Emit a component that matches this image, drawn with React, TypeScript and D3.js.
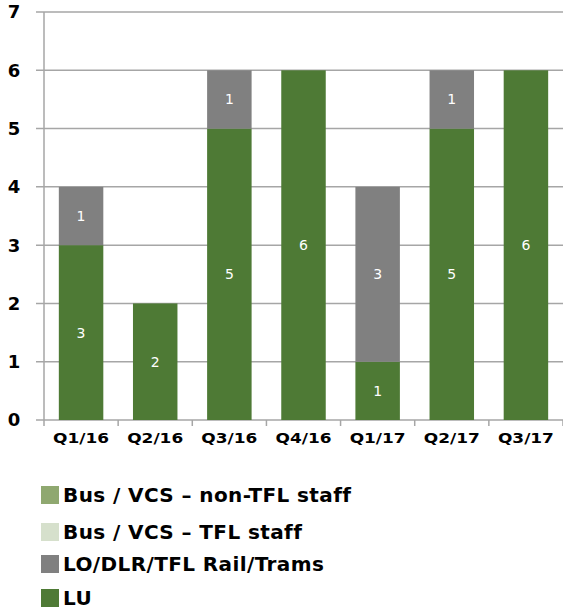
import React from "react";
import * as d3 from "d3";

const categories = ["Q1/16", "Q2/16", "Q3/16", "Q4/16", "Q1/17", "Q2/17", "Q3/17"];
const seriesNames = ["LU", "LO/DLR/TFL Rail/Trams", "Bus / VCS – TFL staff", "Bus / VCS – non-TFL staff"];
const luValues = [3, 2, 5, 6, 1, 5, 6];
const loValues = [1, 0, 1, 0, 3, 1, 0];
const busTflValues = [0, 0, 0, 0, 0, 0, 0];
const busNonTflValues = [0, 0, 0, 0, 0, 0, 0];
const yTicks = [0, 1, 2, 3, 4, 5, 6, 7];
const legendOrder = ["Bus / VCS – non-TFL staff", "Bus / VCS – TFL staff", "LO/DLR/TFL Rail/Trams", "LU"];

const colors: Record<string, string> = {
  "LU": "#4e7a35",
  "LO/DLR/TFL Rail/Trams": "#808080",
  "Bus / VCS – TFL staff": "#d6e0cc",
  "Bus / VCS – non-TFL staff": "#8fa870",
};

export default function App() {
  const W = 563, H = 611;
  const left = 44, right = 563, top = 12, bottom = 420;
  const x = d3.scaleBand<string>().domain(categories).range([left, right]).paddingInner(0.4).paddingOuter(0.2);
  const y = d3.scaleLinear().domain([0, 7]).range([bottom, top]);
  const rows = categories.map((c, i) => ({
    cat: c,
    "LU": luValues[i],
    "LO/DLR/TFL Rail/Trams": loValues[i],
    "Bus / VCS – TFL staff": busTflValues[i],
    "Bus / VCS – non-TFL staff": busNonTflValues[i],
  }));
  const stack = d3.stack<any>().keys(seriesNames)(rows);
  const step = (right - left) / categories.length;
  const font = "'DejaVu Sans', Verdana, sans-serif";

  return (
    <svg width={W} height={H} style={{ position: "absolute", left: 0, top: 0, background: "#fff" }}>
      {yTicks.map((t) => (
        <g key={t}>
          <line x1={36} x2={right} y1={y(t)} y2={y(t)} stroke="#a6a6a6" strokeWidth={1.5} />
          <text x={14} y={y(t)} dy="0.36em" textAnchor="middle" fontFamily={font} fontWeight="bold" fontSize={18} fill="#000">{t}</text>
        </g>
      ))}
      <line x1={left} x2={left} y1={top} y2={bottom + 6} stroke="#a6a6a6" strokeWidth={1.5} />
      {categories.map((c, i) => (
        <line key={c} x1={left + step * (i + 1)} x2={left + step * (i + 1)} y1={bottom} y2={bottom + 6} stroke="#a6a6a6" strokeWidth={1.5} />
      ))}
      {stack.map((s) => (
        <g key={s.key} fill={colors[s.key]}>
          {s.map((d, i) => {
            const h = y(d[0]) - y(d[1]);
            if (h <= 0) return null;
            return (
              <g key={i}>
                <rect x={x(categories[i])} y={y(d[1])} width={x.bandwidth()} height={h} />
                <text x={(x(categories[i]) as number) + x.bandwidth() / 2} y={(y(d[0]) + y(d[1])) / 2} dy="0.36em" textAnchor="middle" fontFamily={font} fontSize={14} fill="#fff">{d[1] - d[0]}</text>
              </g>
            );
          })}
        </g>
      ))}
      {categories.map((c) => (
        <text key={c} x={(x(c) as number) + x.bandwidth() / 2} y={438} dy="0.36em" textAnchor="middle" fontFamily={font} fontWeight="bold" fontSize={14} textLength={56} lengthAdjust="spacingAndGlyphs" fill="#000">{c}</text>
      ))}
      {legendOrder.map((name, i) => {
        const ly = [495, 532, 564, 598][i];
        return (
          <g key={name}>
            <rect x={41} y={ly - 9} width={18} height={18} fill={colors[name]} />
            <text x={63} y={ly} dy="0.36em" fontFamily={font} fontWeight="bold" fontSize={20} letterSpacing={0.4} fill="#000">{name}</text>
          </g>
        );
      })}
    </svg>
  );
}
